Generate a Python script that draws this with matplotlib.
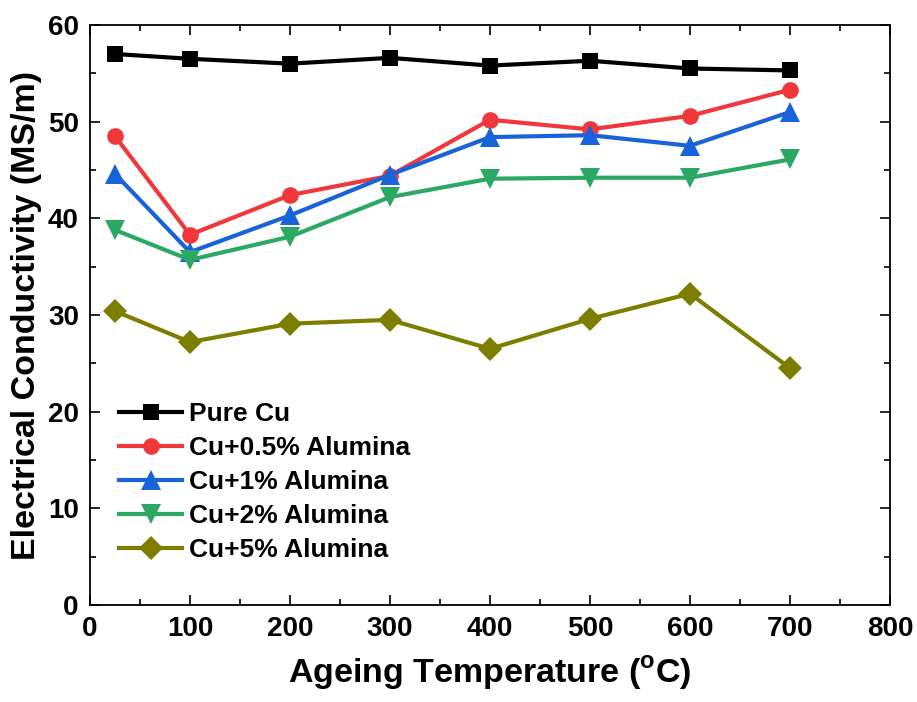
import matplotlib
matplotlib.use("Agg")
import matplotlib.pyplot as plt
from matplotlib.ticker import MultipleLocator

plt.rcParams['font.family'] = ['Liberation Sans', 'DejaVu Sans']
plt.rcParams['font.weight'] = 'bold'
plt.rcParams['mathtext.fontset'] = 'custom'
plt.rcParams['mathtext.rm'] = 'Liberation Sans:bold'
plt.rcParams['mathtext.bf'] = 'Liberation Sans:bold'

temperature = [25, 100, 200, 300, 400, 500, 600, 700]

pure_cu = [57.0, 56.5, 56.0, 56.6, 55.8, 56.3, 55.5, 55.3]
cu_05 = [48.5, 38.3, 42.4, 44.4, 50.2, 49.2, 50.6, 53.3]
cu_1 = [44.6, 36.5, 40.3, 44.5, 48.4, 48.6, 47.5, 51.0]
cu_2 = [38.8, 35.7, 38.1, 42.2, 44.1, 44.2, 44.2, 46.1]
cu_5 = [30.4, 27.2, 29.1, 29.5, 26.5, 29.6, 32.2, 24.5]

labels = ['Pure Cu', 'Cu+0.5% Alumina', 'Cu+1% Alumina', 'Cu+2% Alumina', 'Cu+5% Alumina']
colors = ['#000000', '#F0383C', '#1863DA', '#2CA865', '#7D7D00']
markers = ['s', 'o', '^', 'v', 'D']
msizes = [12, 12, 14, 14, 12]

fig = plt.figure(figsize=(9.17, 7.02), dpi=100)
ax = fig.add_axes([0.0981, 0.1382, 0.8725, 0.8262])

for vals, lab, c, m, ms in zip([pure_cu, cu_05, cu_1, cu_2, cu_5], labels, colors, markers, msizes):
    ax.plot(temperature, vals, color=c, marker=m, markersize=ms, linewidth=3.0,
            label=lab, markeredgewidth=0)

ax.set_xlim(0, 800)
ax.set_ylim(0, 60)
ax.xaxis.set_major_locator(MultipleLocator(100))
ax.xaxis.set_minor_locator(MultipleLocator(50))
ax.yaxis.set_major_locator(MultipleLocator(10))
ax.yaxis.set_minor_locator(MultipleLocator(5))
ax.tick_params(which='both', direction='in', top=True, right=True, width=1.2,
               labelsize=20, pad=8)
ax.tick_params(which='major', length=7)
ax.tick_params(which='minor', length=4)
for lbl in ax.get_xticklabels() + ax.get_yticklabels():
    lbl.set_fontweight('bold')
for s in ax.spines.values():
    s.set_linewidth(1.3)

ax.set_xlabel(r'Ageing Temperature ($^{\mathrm{o}}$C)', fontsize=24.5, fontweight='bold', labelpad=9)
ax.set_ylabel('Electrical Conductivity (MS/m)', fontsize=24.5, fontweight='bold', labelpad=4)

ax.legend(loc='upper left', bbox_to_anchor=(119 / 917, 1 - 402 / 702),
          bbox_transform=fig.transFigure, frameon=False,
          handlelength=2.4, handletextpad=0.25, labelspacing=0.38,
          borderpad=0, borderaxespad=0, prop={'weight': 'bold', 'size': 19})

fig.savefig('out.png', dpi=100)
